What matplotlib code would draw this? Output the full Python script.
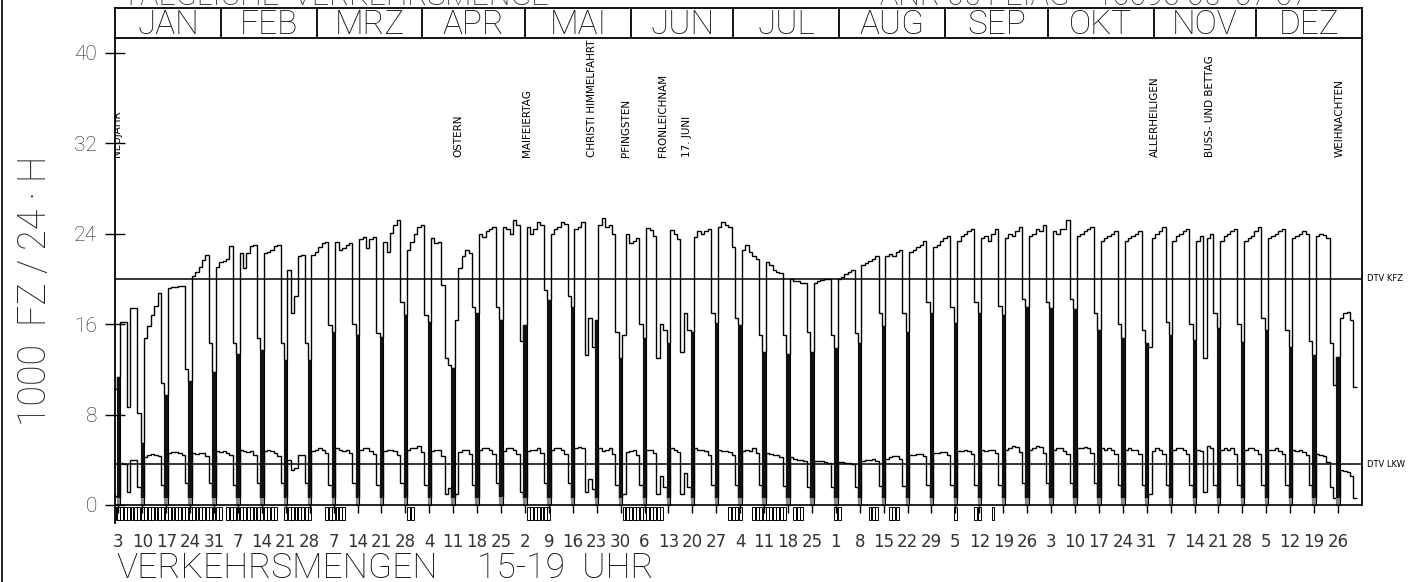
import numpy as np
import matplotlib
matplotlib.use('Agg')
import matplotlib.pyplot as plt
from matplotlib.lines import Line2D
from matplotlib.patches import Rectangle

FONT = ['Roboto', 'DejaVu Sans']
NARROW = ['Liberation Sans Narrow', 'DejaVu Sans']

months = ['JAN', 'FEB', 'MRZ', 'APR', 'MAI', 'JUN', 'JUL', 'AUG', 'SEP', 'OKT', 'NOV', 'DEZ']
month_days = [31, 28, 31, 30, 31, 30, 31, 31, 30, 31, 30, 31]

# KFZ per day (1000 Fz), Fr 1.1. - So 3.1., then weeks Mo..So, then Mo 27.12. - Fr 31.12.
kfz_start = [8.0, 10.3, 11.3]
kfz_weeks = [
    [16.2, 16.2, 8.7, 17.4, 17.4, 8.1, 5.5],
    [14.8, 15.8, 16.8, 17.6, 18.8, 10.8, 9.7],
    [19.2, 19.3, 19.3, 19.4, 19.4, 12.0, 11.0],
    [20.3, 20.6, 21.1, 21.7, 22.1, 14.3, 11.8],
    [21.1, 21.5, 21.6, 21.8, 22.9, 14.3, 13.4],
    [22.3, 21.0, 22.3, 22.9, 23.0, 14.8, 13.7],
    [22.3, 22.4, 22.6, 22.9, 23.0, 14.3, 12.8],
    [20.8, 17.0, 18.5, 22.0, 22.1, 14.3, 12.8],
    [22.1, 22.4, 22.8, 23.2, 23.3, 15.9, 15.3],
    [23.3, 22.6, 22.7, 23.0, 23.2, 16.0, 15.0],
    [23.5, 23.7, 22.7, 23.5, 23.7, 15.2, 14.9],
    [23.3, 22.4, 24.1, 24.8, 25.2, 18.0, 16.8],
    [22.6, 23.3, 24.0, 24.6, 24.8, 16.8, 16.2],
    [23.6, 23.2, 23.3, 19.5, 13.0, 12.4, 12.1],
    [16.4, 21.0, 22.0, 22.6, 22.3, 17.5, 17.0],
    [24.0, 23.7, 24.2, 24.4, 24.6, 17.5, 16.4],
    [24.6, 24.4, 24.0, 25.2, 24.8, 14.5, 15.9],
    [24.6, 24.0, 24.4, 25.0, 24.8, 19.0, 18.1],
    [24.0, 24.4, 24.6, 25.0, 24.9, 18.5, 17.5],
    [24.4, 24.6, 25.0, 13.3, 16.5, 14.0, 16.4],
    [24.8, 25.4, 24.6, 24.8, 24.0, 15.3, 13.0],
    [15.0, 24.0, 23.2, 23.4, 23.6, 16.0, 14.8],
    [24.5, 24.3, 23.8, 13.0, 16.0, 15.5, 14.3],
    [24.3, 24.0, 23.5, 13.5, 17.0, 15.5, 15.3],
    [23.7, 24.2, 24.0, 24.2, 24.4, 17.0, 16.1],
    [24.6, 25.0, 24.8, 24.6, 22.8, 16.5, 15.9],
    [22.6, 23.0, 22.4, 22.0, 21.8, 15.0, 13.5],
    [21.5, 21.2, 20.8, 20.6, 20.5, 15.0, 13.4],
    [20.0, 19.8, 19.8, 19.6, 19.6, 15.3, 13.5],
    [19.6, 19.8, 19.9, 20.0, 20.0, 15.0, 13.9],
    [20.0, 20.2, 20.4, 20.6, 20.8, 15.2, 14.3],
    [21.2, 21.4, 21.6, 21.8, 22.0, 17.0, 15.8],
    [22.0, 22.2, 22.0, 22.4, 22.6, 17.0, 15.3],
    [22.4, 22.6, 22.8, 23.0, 23.4, 18.0, 17.0],
    [22.8, 23.0, 23.4, 23.6, 23.8, 17.5, 16.1],
    [23.4, 23.8, 24.0, 24.2, 24.4, 18.0, 17.0],
    [23.6, 23.8, 23.4, 24.0, 24.4, 17.6, 16.8],
    [23.6, 24.0, 23.8, 24.2, 24.6, 18.2, 17.5],
    [23.8, 24.0, 24.4, 24.2, 24.8, 18.0, 17.4],
    [24.2, 24.0, 24.4, 24.4, 25.2, 18.2, 17.3],
    [23.8, 24.0, 24.2, 24.4, 24.6, 17.0, 15.5],
    [23.4, 23.6, 23.8, 24.0, 24.2, 16.0, 14.8],
    [23.4, 23.6, 23.8, 24.0, 24.2, 15.5, 14.3],
    [14.0, 23.6, 24.0, 24.2, 24.6, 16.2, 15.0],
    [23.4, 23.8, 24.0, 24.2, 24.4, 16.0, 14.6],
    [23.4, 23.8, 13.0, 23.6, 24.0, 17.0, 15.7],
    [23.4, 23.8, 24.0, 24.2, 24.4, 16.0, 14.4],
    [23.4, 23.6, 23.8, 24.2, 24.6, 16.5, 15.5],
    [23.6, 23.8, 24.0, 24.2, 24.4, 15.5, 14.0],
    [23.6, 23.8, 24.0, 24.2, 24.0, 14.5, 13.3],
    [23.8, 24.0, 23.9, 23.6, 14.3, 10.6, 13.1],
]
kfz_end = [16.5, 17.0, 17.1, 16.4, 10.4]

lkw_start = [1.0, 0.8, 0.6]
lkw_weeks = [
    [3.7, 3.6, 1.1, 4.0, 4.0, 1.6, 0.6],
    [4.2, 4.4, 4.5, 4.4, 4.3, 1.8, 0.6],
    [4.6, 4.7, 4.7, 4.6, 4.4, 1.9, 0.6],
    [4.6, 4.5, 4.6, 4.6, 4.3, 1.9, 0.6],
    [4.8, 4.7, 4.8, 4.6, 4.4, 1.8, 0.6],
    [4.9, 4.8, 4.7, 4.8, 4.4, 1.9, 0.6],
    [4.8, 4.9, 4.8, 4.6, 4.3, 1.9, 0.6],
    [4.0, 3.1, 3.3, 4.4, 4.4, 1.9, 0.6],
    [4.8, 4.9, 5.0, 4.9, 4.6, 1.8, 0.6],
    [5.0, 4.9, 4.8, 4.9, 4.6, 1.9, 0.6],
    [4.9, 5.0, 5.0, 4.8, 4.5, 1.8, 0.6],
    [4.8, 4.9, 4.9, 4.8, 4.4, 1.9, 0.6],
    [4.9, 5.0, 5.0, 5.2, 4.7, 1.8, 0.6],
    [4.8, 4.9, 4.9, 4.3, 1.0, 1.5, 0.6],
    [1.0, 4.7, 4.9, 4.9, 4.5, 1.8, 0.6],
    [4.9, 5.0, 5.0, 4.9, 4.5, 1.9, 0.7],
    [4.8, 5.0, 5.0, 4.9, 4.5, 1.1, 0.6],
    [4.8, 4.9, 4.9, 5.0, 4.6, 1.9, 0.6],
    [4.9, 5.0, 5.0, 4.9, 4.5, 1.9, 0.6],
    [5.0, 5.1, 5.0, 1.1, 2.3, 1.4, 0.6],
    [5.0, 4.8, 4.9, 5.0, 4.5, 1.8, 0.6],
    [1.0, 4.7, 4.8, 4.9, 4.4, 1.8, 0.6],
    [4.9, 4.9, 4.6, 1.0, 2.6, 1.6, 0.6],
    [5.0, 4.9, 4.7, 1.0, 2.8, 1.6, 0.6],
    [5.0, 4.9, 4.9, 4.8, 4.4, 1.8, 0.6],
    [4.9, 4.8, 4.8, 4.7, 4.4, 1.8, 0.6],
    [4.8, 4.9, 4.8, 5.0, 4.6, 1.8, 0.6],
    [4.6, 4.5, 4.4, 4.4, 4.2, 1.7, 0.6],
    [4.2, 4.1, 4.0, 4.0, 3.9, 1.6, 0.6],
    [3.9, 3.9, 3.9, 3.8, 3.7, 1.6, 0.6],
    [3.8, 3.8, 3.7, 3.7, 3.6, 1.6, 0.6],
    [3.9, 4.0, 4.0, 4.1, 3.9, 1.7, 0.6],
    [4.1, 4.2, 4.3, 4.3, 4.1, 1.7, 0.6],
    [4.4, 4.4, 4.5, 4.5, 4.3, 1.8, 0.6],
    [4.6, 4.6, 4.7, 4.7, 4.4, 1.8, 0.6],
    [4.8, 4.8, 4.9, 4.8, 4.5, 1.8, 0.6],
    [4.9, 4.8, 4.9, 4.9, 4.6, 1.8, 0.6],
    [4.9, 5.0, 5.2, 5.1, 4.7, 1.9, 0.6],
    [4.9, 5.0, 5.2, 5.1, 4.6, 1.9, 0.6],
    [4.9, 5.0, 5.0, 4.8, 4.5, 1.9, 0.6],
    [5.0, 5.0, 5.1, 5.0, 4.6, 1.9, 0.6],
    [5.0, 4.9, 5.0, 4.9, 4.5, 1.8, 0.6],
    [4.9, 5.0, 4.9, 4.9, 4.5, 1.8, 0.6],
    [1.0, 4.8, 5.0, 4.9, 4.5, 1.8, 0.6],
    [4.9, 5.0, 5.0, 4.9, 4.5, 1.8, 0.6],
    [4.9, 4.8, 1.1, 5.2, 5.0, 1.8, 0.6],
    [4.9, 5.0, 4.9, 5.0, 4.5, 1.8, 0.6],
    [4.9, 5.0, 5.0, 4.9, 4.5, 1.8, 0.6],
    [4.9, 4.9, 5.0, 4.8, 4.5, 1.8, 0.6],
    [4.9, 4.8, 4.9, 4.7, 4.4, 1.8, 0.6],
    [4.5, 4.4, 4.3, 3.8, 1.6, 0.6, 0.6],
]
lkw_end = [3.1, 3.0, 2.9, 2.6, 0.6]

dtv_kfz = 20.0
dtv_lkw = 3.6

# day-of-year ranges with marks below the zero line
marked_days = [(1, 26), (27, 33), (35, 49), (52, 59), (64, 69), (88, 89), (123, 129),
               (151, 162), (182, 185), (189, 198), (201, 203), (213, 214), (223, 225),
               (229, 231), (248, 248), (254, 255), (259, 259)]

holidays = [(1, 'NEUJAHR'), (101, 'OSTERN'), (121, 'MAIFEIERTAG'),
            (140, 'CHRISTI HIMMELFAHRT'), (150, 'PFINGSTEN'), (161, 'FRONLEICHNAM'),
            (168, '17. JUNI'), (305, 'ALLERHEILIGEN'), (321, 'BUSS- UND BETTAG'),
            (359, 'WEIHNACHTEN')]

kfz = np.array(kfz_start + sum(kfz_weeks, []) + kfz_end)
lkw = np.array(lkw_start + sum(lkw_weeks, []) + lkw_end)
n = len(kfz)
idx = np.arange(n)
centers = idx - 1.0
edges = np.arange(n + 1) - 1.5
dates = np.datetime64('1982-01-01') + idx
sundays = idx[(idx - 2) % 7 == 0]

fig = plt.figure(figsize=(14.14, 5.82), dpi=100)
ax = fig.add_axes([0.0813, 0.1014, 0.8819, 0.8328])
ax.set_xlim(0, 365)
ax.set_ylim(-1.6, 41.3)

lw = 1.0
ax.stairs(kfz, edges, color='black', lw=lw, baseline=None)
ax.stairs(lkw, edges, color='black', lw=lw, baseline=None)

# sundays: dark hatched bars
for i in sundays:
    x = centers[i]
    ax.add_patch(Rectangle((x - 0.5, 0), 1.0, kfz[i], fill=False, ec='black', lw=0.8))
    ax.add_patch(Rectangle((x - 0.5, lkw[i]), 1.0, kfz[i] - lkw[i], fc='#111111', ec='none'))
    ax.add_patch(Rectangle((x - 0.5, 0), 1.0, lkw[i], fc='#888888', ec='none'))

ax.axhline(0, color='black', lw=1.2)
ax.axhline(dtv_kfz, color='black', lw=1.1)
ax.axhline(dtv_lkw, color='black', lw=1.1)
ax.plot([365, 365], [0, 41.3], color='black', lw=1.3, clip_on=False)
ax.text(366.5, dtv_kfz, 'DTV KFZ', fontsize=6, family=NARROW, va='center', ha='left')
ax.text(366.5, dtv_lkw, 'DTV LKW', fontsize=6, family=NARROW, va='center', ha='left')

# marks below zero line
for a, b in marked_days:
    for d in range(a, b + 1):
        x = centers[d - 1]
        ax.add_patch(Rectangle((x - 0.42, -1.3), 0.84, 1.15, fill=False, ec='black', lw=0.7))
ax.vlines(centers[sundays], -0.75, 0, color='black', lw=1.0)

# holiday labels
for doy, name in holidays:
    ax.text(doy - 0.5, 30.8, name, rotation=90, ha='center', va='bottom',
            fontsize=7.5, family=NARROW, clip_on=True)

for s in ['top', 'right', 'bottom']:
    ax.spines[s].set_visible(False)
ax.spines['left'].set_linewidth(1.3)

ax.set_yticks(np.arange(0, 41, 8))
ax.set_yticklabels([str(v) for v in range(0, 41, 8)], fontsize=15, family=FONT,
                   fontweight='light', color='#222222')
ax.tick_params(axis='y', direction='inout', length=14, width=1.0, pad=6)
ax.set_xticks(centers[sundays])
ax.set_xticklabels([str(d.astype(object).day) for d in dates[sundays]],
                   fontsize=12, family=NARROW, color='#333333')
ax.tick_params(axis='x', length=0, pad=7)

# month header box
hx = fig.add_axes([0.0813, 0.9347, 0.8819, 0.0515])
hx.set_xlim(0, 365)
hx.set_ylim(0, 1)
bounds = np.cumsum([0] + month_days)
for b in bounds[1:-1]:
    hx.axvline(b, color='black', lw=1.3)
for k, m in enumerate(months):
    hx.text((bounds[k] + bounds[k + 1]) / 2, 0.42, m, ha='center', va='center',
            fontsize=24, family=FONT, fontweight='light', color='#111111')
hx.set_xticks([])
hx.set_yticks([])
for s in hx.spines.values():
    s.set_linewidth(1.3)

fig.text(0.0248, 0.50, '1000  FZ / 24 · H', rotation=90, ha='center', va='center',
         fontsize=27, family=FONT, fontweight='light', color='#222222')
fig.text(0.082, 0.024, 'VERKEHRSMENGEN', ha='left', va='center',
         fontsize=25.5, family=FONT, fontweight='light', color='#111111')
fig.text(0.337, 0.024, '15-19  UHR', ha='left', va='center',
         fontsize=25.5, family=FONT, fontweight='light', color='#111111')

# partly cut title line at the top edge
fig.text(0.086, 0.9915, 'TAEGLICHE  VERKEHRSMENGE', ha='left', va='baseline',
         fontsize=22, family=FONT, fontweight='light', color='#222222')
fig.text(0.622, 0.9915, 'ANR 05 FEIAG', ha='left', va='baseline',
         fontsize=22, family=FONT, fontweight='light', color='#222222')
fig.text(0.775, 0.9915, '10096 05  07 07', ha='left', va='baseline',
         fontsize=22, family=FONT, fontweight='light', color='#222222')

fig.add_artist(Line2D([0.0015, 0.0015], [0, 1], color='black', lw=1.2))

fig.savefig('out.png', dpi=100)
